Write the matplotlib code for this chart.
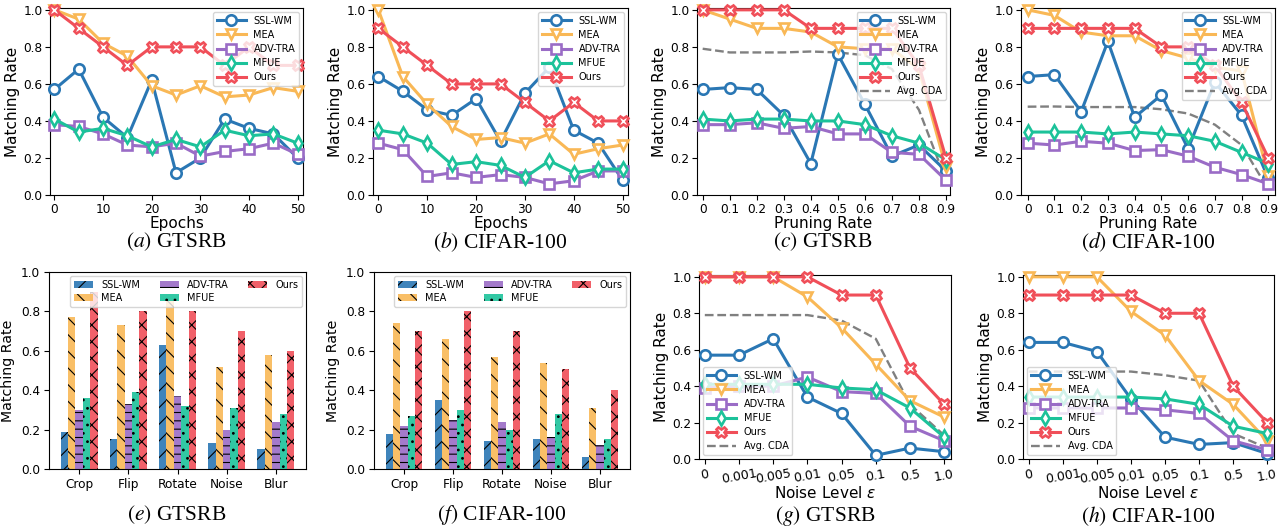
import matplotlib
matplotlib.use("Agg")
import matplotlib.pyplot as plt
import numpy as np

plt.rcParams['font.family'] = ['DejaVu Sans']
plt.rcParams['hatch.color'] = 'black'
plt.rcParams['hatch.linewidth'] = 0.8

# ---------------- data ----------------
methods = ['SSL-WM', 'MEA', 'ADV-TRA', 'MFUE', 'Ours']
colors = ['#2a77b4', '#f9b856', '#9a6cc6', '#1cc29a', '#f04f59']
markers = ['o', 'v', 's', 'd', 'X']
hatches = ['//', '\\\\', '--', '..', 'xx']

epochs = [0, 5, 10, 15, 20, 25, 30, 35, 40, 45, 50]
a_ssl = [0.57, 0.68, 0.42, 0.31, 0.62, 0.12, 0.20, 0.41, 0.36, 0.33, 0.20]
a_mea = [1.0, 0.95, 0.82, 0.75, 0.59, 0.54, 0.59, 0.53, 0.54, 0.58, 0.56]
a_adv = [0.38, 0.37, 0.33, 0.27, 0.26, 0.28, 0.21, 0.235, 0.25, 0.28, 0.22]
a_mfue = [0.41, 0.34, 0.36, 0.32, 0.26, 0.30, 0.26, 0.35, 0.32, 0.33, 0.28]
a_ours = [1.0, 0.9, 0.8, 0.7, 0.8, 0.8, 0.8, 0.7, 0.8, 0.7, 0.7]

b_ssl = [0.64, 0.56, 0.46, 0.43, 0.52, 0.29, 0.55, 0.69, 0.35, 0.28, 0.08]
b_mea = [1.0, 0.64, 0.49, 0.37, 0.30, 0.31, 0.28, 0.33, 0.22, 0.25, 0.27]
b_adv = [0.28, 0.245, 0.10, 0.12, 0.095, 0.11, 0.095, 0.06, 0.077, 0.13, 0.13]
b_mfue = [0.35, 0.33, 0.28, 0.165, 0.18, 0.16, 0.095, 0.185, 0.12, 0.14, 0.14]
b_ours = [0.9, 0.8, 0.7, 0.6, 0.6, 0.6, 0.5, 0.4, 0.5, 0.4, 0.4]

prune = [0, 0.1, 0.2, 0.3, 0.4, 0.5, 0.6, 0.7, 0.8, 0.9]
prune_labels = ['0', '0.1', '0.2', '0.3', '0.4', '0.5', '0.6', '0.7', '0.8', '0.9']
c_ssl = [0.57, 0.58, 0.57, 0.43, 0.17, 0.76, 0.49, 0.21, 0.27, 0.13]
c_mea = [1.0, 0.95, 0.9, 0.9, 0.88, 0.80, 0.79, 0.79, 0.68, 0.15]
c_adv = [0.38, 0.38, 0.39, 0.36, 0.37, 0.33, 0.33, 0.23, 0.22, 0.08]
c_mfue = [0.41, 0.40, 0.41, 0.41, 0.40, 0.40, 0.38, 0.32, 0.28, 0.19]
c_ours = [1.0, 1.0, 1.0, 1.0, 0.9, 0.9, 0.9, 0.9, 0.7, 0.2]
c_cda = [0.79, 0.77, 0.77, 0.77, 0.775, 0.77, 0.755, 0.68, 0.46, 0.08]

d_ssl = [0.64, 0.65, 0.45, 0.83, 0.42, 0.54, 0.25, 0.61, 0.43, 0.09]
d_mea = [1.0, 0.97, 0.88, 0.86, 0.86, 0.78, 0.74, 0.69, 0.67, 0.10]
d_adv = [0.28, 0.27, 0.29, 0.28, 0.24, 0.245, 0.21, 0.15, 0.11, 0.06]
d_mfue = [0.34, 0.34, 0.34, 0.33, 0.34, 0.33, 0.32, 0.29, 0.23, 0.17]
d_ours = [0.9, 0.9, 0.9, 0.9, 0.9, 0.8, 0.8, 0.7, 0.5, 0.2]
d_cda = [0.477, 0.478, 0.475, 0.475, 0.475, 0.463, 0.44, 0.38, 0.27, 0.03]

attacks = ['Crop', 'Flip', 'Rotate', 'Noise', 'Blur']
e_ssl = [0.19, 0.15, 0.63, 0.13, 0.10]
e_mea = [0.77, 0.73, 0.86, 0.52, 0.58]
e_adv = [0.30, 0.33, 0.37, 0.20, 0.24]
e_mfue = [0.36, 0.39, 0.32, 0.31, 0.28]
e_ours = [0.90, 0.80, 0.80, 0.70, 0.60]

f_ssl = [0.18, 0.35, 0.14, 0.15, 0.06]
f_mea = [0.74, 0.66, 0.57, 0.54, 0.31]
f_adv = [0.22, 0.25, 0.24, 0.16, 0.12]
f_mfue = [0.27, 0.30, 0.20, 0.28, 0.15]
f_ours = [0.70, 0.80, 0.70, 0.51, 0.40]

noise_labels = ['0', '0.001', '0.005', '0.01', '0.05', '0.1', '0.5', '1.0']
g_ssl = [0.57, 0.57, 0.66, 0.34, 0.25, 0.02, 0.06, 0.04]
g_mea = [1.0, 1.0, 1.0, 0.89, 0.72, 0.52, 0.32, 0.23]
g_adv = [0.39, 0.40, 0.40, 0.45, 0.37, 0.36, 0.18, 0.10]
g_mfue = [0.41, 0.41, 0.41, 0.41, 0.39, 0.38, 0.28, 0.12]
g_ours = [1.0, 1.0, 1.0, 1.0, 0.9, 0.9, 0.5, 0.3]
g_cda = [0.79, 0.79, 0.79, 0.79, 0.76, 0.66, 0.30, 0.13]

h_ssl = [0.64, 0.64, 0.59, 0.33, 0.12, 0.08, 0.09, 0.03]
h_mea = [1.0, 1.0, 1.0, 0.81, 0.68, 0.43, 0.30, 0.10]
h_adv = [0.28, 0.28, 0.28, 0.28, 0.27, 0.25, 0.10, 0.05]
h_mfue = [0.34, 0.34, 0.34, 0.34, 0.33, 0.30, 0.18, 0.14]
h_ours = [0.9, 0.9, 0.9, 0.9, 0.8, 0.8, 0.4, 0.2]
h_cda = [0.48, 0.48, 0.48, 0.48, 0.46, 0.43, 0.14, 0.06]

captions = [r'$\mathit{(a)}$ GTSRB', r'$\mathit{(b)}$ CIFAR-100',
            r'$\mathit{(c)}$ GTSRB', r'$\mathit{(d)}$ CIFAR-100',
            r'$\mathit{(e)}$ GTSRB', r'$\mathit{(f)}$ CIFAR-100',
            r'$\mathit{(g)}$ GTSRB', r'$\mathit{(h)}$ CIFAR-100']

# ---------------- figure ----------------
W, H = 1286, 529
fig = plt.figure(figsize=(W / 100, H / 100), dpi=100)


def add_ax(l, r, t, b):
    return fig.add_axes([l / W, 1 - b / H, (r - l) / W, (b - t) / H])


TICK = 8.7
LAB = 11
LEG = 7.0


def line_panel(ax, x, series, cda=None, legloc='upper right'):
    for i, ys in enumerate(series):
        ax.plot(x, ys, color=colors[i], marker=markers[i], lw=2.2, ms=7.5,
                mfc='white', mec=colors[i], mew=1.9, label=methods[i],
                clip_on=False, zorder=3)
    if cda is not None:
        ax.plot(x, cda, color='#808080', lw=1.7, ls='--', label='Avg. CDA',
                zorder=2)
    ax.set_ylim(0, 1.01)
    ax.set_yticks([0, 0.2, 0.4, 0.6, 0.8, 1.0])
    ax.set_ylabel('Matching Rate', fontsize=LAB, labelpad=2)
    ax.tick_params(labelsize=TICK, pad=2)
    leg = ax.legend(loc=legloc, fontsize=LEG, borderaxespad=0.4,
                    handlelength=3.0, labelspacing=0.42)
    leg.set_zorder(10)


# Row 1
ax = add_ax(50, 303, 8, 195)
line_panel(ax, epochs, [a_ssl, a_mea, a_adv, a_mfue, a_ours])
ax.set_xlim(-0.9, 51.1)
ax.set_xticks([0, 10, 20, 30, 40, 50])
ax.set_xlabel('Epochs', fontsize=LAB, labelpad=0)

ax = add_ax(373, 628, 8, 195)
line_panel(ax, epochs, [b_ssl, b_mea, b_adv, b_mfue, b_ours])
ax.set_xlim(-1.1, 51.1)
ax.set_xticks([0, 10, 20, 30, 40, 50])
ax.set_xlabel('Epochs', fontsize=LAB, labelpad=0)

ax = add_ax(697, 950, 8, 195)
line_panel(ax, prune, [c_ssl, c_mea, c_adv, c_mfue, c_ours], cda=c_cda)
ax.set_xlim(-0.021, 0.915)
ax.set_xticks(prune)
ax.set_xticklabels(prune_labels)
ax.set_xlabel('Pruning Rate', fontsize=LAB, labelpad=0)

ax = add_ax(1021, 1275, 8, 195)
line_panel(ax, prune, [d_ssl, d_mea, d_adv, d_mfue, d_ours], cda=d_cda)
ax.set_xlim(-0.025, 0.925)
ax.set_xticks(prune)
ax.set_xticklabels(prune_labels)
ax.set_xlabel('Pruning Rate', fontsize=LAB, labelpad=0)


# Row 2 bars
def bar_panel(ax, series):
    x = np.arange(len(attacks))
    w = 0.15
    for i, ys in enumerate(series):
        ax.bar(x + (i - 2) * w, ys, width=w, color=colors[i], alpha=0.9,
               hatch=hatches[i], lw=0, label=methods[i])
    ax.set_ylim(0, 1.0)
    ax.set_yticks([0, 0.2, 0.4, 0.6, 0.8, 1.0])
    ax.set_xticks(x)
    ax.set_xticklabels(attacks)
    ax.set_ylabel('Matching Rate', fontsize=10.2, labelpad=4)
    ax.tick_params(labelsize=TICK, pad=3)
    leg = ax.legend(loc='upper right', ncol=3, fontsize=LEG,
                    borderaxespad=0.4, columnspacing=2.0, labelspacing=0.3)
    leg.set_zorder(10)


ax = add_ax(49, 306, 272, 469)
bar_panel(ax, [e_ssl, e_mea, e_adv, e_mfue, e_ours])
ax = add_ax(374, 630, 272, 469)
bar_panel(ax, [f_ssl, f_mea, f_adv, f_mfue, f_ours])


def noise_panel(ax, series, cda):
    x = np.arange(len(noise_labels))
    line_panel(ax, x, series, cda=cda, legloc='lower left')
    ax.set_xlim(-0.17, 7.2)
    ax.set_xticks(x)
    ax.set_xticklabels(noise_labels, rotation=10)
    ax.tick_params(axis='x', labelsize=9.0, pad=2.5)
    ax.set_xlabel(r'Noise Level $\varepsilon$', fontsize=LAB, labelpad=-1)


ax = add_ax(699, 951, 275, 459)
noise_panel(ax, [g_ssl, g_mea, g_adv, g_mfue, g_ours], g_cda)
ax = add_ax(1023, 1274, 275, 459)
noise_panel(ax, [h_ssl, h_mea, h_adv, h_mfue, h_ours], h_cda)

# Captions
cap_x = [176, 500, 823, 1148, 177, 502, 825, 1148]
cap_y = [242, 242, 242, 242, 515, 515, 516, 516]
for cx, cy, txt in zip(cap_x, cap_y, captions):
    fig.text(cx / W, 1 - cy / H, txt, ha='center', va='center', fontsize=15.5,
             family='Liberation Serif', math_fontfamily='stix')

fig.savefig('out.png', dpi=100)
